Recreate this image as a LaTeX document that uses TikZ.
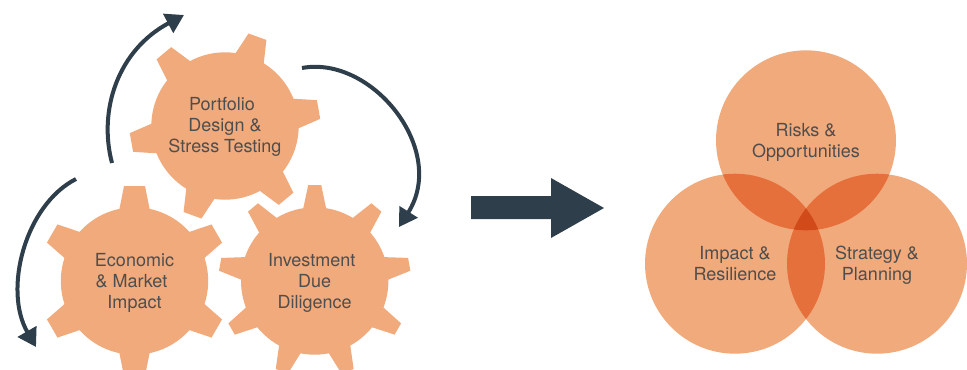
\documentclass[tikz,border=0pt]{standalone}
\usepackage{fontspec}
\setmainfont{TeX Gyre Heros}
\usetikzlibrary{arrows.meta}
\definecolor{gearorange}{RGB}{241, 170, 124}
\definecolor{overlaporange}{RGB}{229, 112, 60}
\definecolor{coreorange}{RGB}{209, 74, 26}
\definecolor{arrowslate}{RGB}{46, 62, 74}
\definecolor{labelgray}{RGB}{78, 78, 78}
\tikzset{
  geartext/.style={font=\fontsize{10.25}{12}\selectfont, text=labelgray, align=center},
  cyclearrow/.style={arrowslate, line width=0.08cm, -{Triangle[length=0.36cm,width=0.42cm]}},
  pics/geartooth/.style n args={4}{code={
    \fill[gearorange] (-#1,#3) -- (-#2,#4) -- (#2,#4) -- (#1,#3) -- cycle;
  }}
}
\begin{document}
\begin{tikzpicture}[x=0.02cm, y=-0.02cm]
  \useasboundingbox (0,0) rectangle (967,369);
  \clip (0,0) rectangle (967,369);

  % Portfolio gear
  \fill[gearorange] (225,126) circle (1.474cm);
  \foreach \a in {10,70,...,310}
    \pic[shift={(225,126)}, rotate=\a-90] {geartooth={15.5}{9.5}{-70}{-95}};
  \node[geartext] (portfolio) at (225,127) {Portfolio\kern3.4pt\\Design \&\\Stress Testing};

  % Economic gear
  \fill[gearorange] (134.5,281) circle (1.474cm);
  \foreach \a in {30,90,...,330}
    \pic[shift={(134.5,281)}, rotate=\a-90] {geartooth={15.5}{10.5}{-70}{-95}};
  \node[geartext] (economic) at (134.5,283) {Economic\\\& Market\kern3.4pt\\Impact};

  % Investment gear
  \fill[gearorange] (314.7,281) circle (1.474cm);
  \foreach \a in {-150,-110,...,170}
    \pic[shift={(314.7,281)}, rotate=\a-90] {geartooth={12}{6.5}{-70}{-96}};
  \node[geartext] (investment) at (314.7,283) {Investment\kern3.4pt\\Due\\Diligence};

  % Cycle arrows
  \coordinate (upstart) at (112,163);
  \coordinate (uptip) at (184,15);
  \coordinate (rightstart) at (302,68);
  \coordinate (righttip) at (399,227);
  \coordinate (leftstart) at (76,179);
  \coordinate (lefttip) at (36,347);
  \draw[cyclearrow] (upstart) .. controls (98,110) and (118,50) .. (uptip);
  \draw[cyclearrow] (rightstart) .. controls (372,55) and (448,150) .. (righttip);
  \draw[cyclearrow] (leftstart) .. controls (25,205) and (3,290) .. (lefttip);

  % Big arrow
  \fill[arrowslate] (471,196) -- (551,196) -- (551,178) -- (604,208) -- (551,238)
    -- (551,219) -- (471,219) -- cycle;

  % Circles
  \fill[gearorange] (806,140.3) circle (1.8cm);
  \fill[gearorange] (735,263.7) circle (1.8cm);
  \fill[gearorange] (877,263.7) circle (1.8cm);
  \begin{scope}
    \clip (806,140.3) circle (1.8cm);
    \fill[overlaporange] (735,263.7) circle (1.8cm);
    \fill[overlaporange] (877,263.7) circle (1.8cm);
  \end{scope}
  \begin{scope}
    \clip (735,263.7) circle (1.8cm);
    \fill[overlaporange] (877,263.7) circle (1.8cm);
  \end{scope}
  \begin{scope}
    \clip (806,140.3) circle (1.8cm);
    \clip (735,263.7) circle (1.8cm);
    \fill[coreorange] (877,263.7) circle (1.8cm);
  \end{scope}
  \node[geartext] (risks) at (806,142.5) {Risks \&\\Opportunities};
  \node[geartext] (impact) at (735,263.5) {Impact \&\\Resilience};
  \node[geartext] (strategy) at (877,265.5) {Strategy \&\\Planning};
\end{tikzpicture}
\end{document}
